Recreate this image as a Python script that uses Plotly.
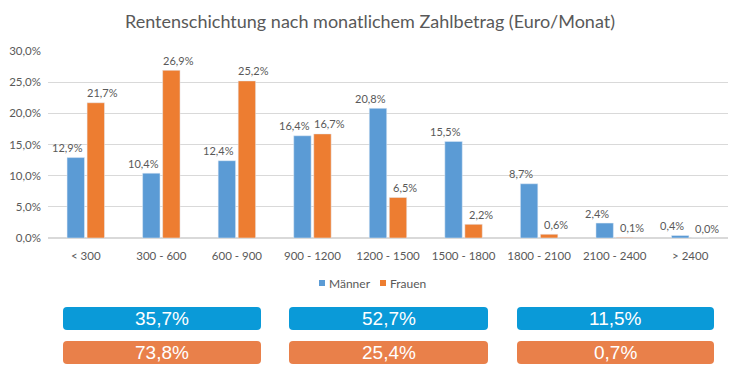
import plotly.graph_objects as go

categories = ["< 300", "300 - 600", "600 - 900", "900 - 1200", "1200 - 1500",
              "1500 - 1800", "1800 - 2100", "2100 - 2400", "> 2400"]
maenner = [12.9, 10.4, 12.4, 16.4, 20.8, 15.5, 8.7, 2.4, 0.4]
frauen = [21.7, 26.9, 25.2, 16.7, 6.5, 2.2, 0.6, 0.1, 0.0]
summen_maenner = ["35,7%", "52,7%", "11,5%"]
summen_frauen = ["73,8%", "25,4%", "0,7%"]

OFF = 8  # page body margin
W, H = 738 - 2 * OFF, 382 - 2 * OFF
L, R, T, B = 48 - OFF, 728 - OFF, 51 - OFF, 238 - OFF

def px(x):
    return (x - OFF - L) / (R - L)

def py(y):
    return (B - (y - OFF)) / (B - T)

grey = "#595959"
blue, orange = "#5B9BD5", "#ED7D31"
fig = go.Figure()
fig.add_trace(go.Bar(x=categories, y=maenner, name="Männer", marker_color=blue,
                     showlegend=False, offsetgroup="m"))
fig.add_trace(go.Bar(x=categories, y=frauen, name="Frauen", marker_color=orange,
                     showlegend=False, offsetgroup="f"))

annotations = []
def fmt(v):
    return f"{v:.1f}".replace(".", ",") + "%"

for cat, v in zip(categories, maenner):
    annotations.append(dict(x=cat, y=v, xref="x", yref="y", text=fmt(v), showarrow=False,
                            xanchor="center", yanchor="middle", xshift=-18, yshift=10,
                            font=dict(size=11, color=grey)))
for cat, v in zip(categories, frauen):
    annotations.append(dict(x=cat, y=v, xref="x", yref="y", text=fmt(v), showarrow=False,
                            xanchor="center", yanchor="middle", xshift=17, yshift=10,
                            font=dict(size=11, color=grey)))

def rounded(x0, y0, x1, y1, r=4):
    X0, X1 = px(x0), px(x1)
    Y0, Y1 = py(y0), py(y1)  # Y0 top
    rx = r / (R - L)
    ry = r / (B - T)
    return (f"M {X0+rx},{Y0} L {X1-rx},{Y0} Q {X1},{Y0} {X1},{Y0-ry} "
            f"L {X1},{Y1+ry} Q {X1},{Y1} {X1-rx},{Y1} L {X0+rx},{Y1} "
            f"Q {X0},{Y1} {X0},{Y1+ry} L {X0},{Y0-ry} Q {X0},{Y0} {X0+rx},{Y0} Z")

boxes_x = [(63, 261), (289, 488), (517, 714)]
rows = [((307, 330), "#0A9AD8", summen_maenner), ((341, 364), "#E9804A", summen_frauen)]
shapes = []
for (ya, yb), col, labels in rows:
    for (xa, xb), lab in zip(boxes_x, labels):
        shapes.append(dict(type="path", xref="paper", yref="paper", path=rounded(xa, ya, xb, yb),
                           fillcolor=col, line_width=0))
        annotations.append(dict(xref="paper", yref="paper", x=px((xa + xb) / 2), y=py((ya + yb) / 2),
                                text=lab, showarrow=False, xanchor="center", yanchor="middle",
                                font=dict(family="Liberation Sans", size=19, color="white")))

# legend (small squares + labels like the original)
for sx, col, name in [(319, blue, "Männer"), (380, orange, "Frauen")]:
    shapes.append(dict(type="rect", xref="paper", yref="paper", x0=px(sx), x1=px(sx + 6),
                       y0=py(286), y1=py(280), fillcolor=col, line_width=0))
    annotations.append(dict(xref="paper", yref="paper", x=px(sx + 8), y=py(283), text=name,
                            showarrow=False, xanchor="left", yanchor="middle",
                            font=dict(size=12, color=grey)))

fig.update_layout(
    width=W, height=H,
    margin=dict(l=L, r=W - R, t=T, b=H - B, pad=0),
    paper_bgcolor="white", plot_bgcolor="white",
    separators=",.",
    barmode="group", bargap=0.47, bargroupgap=0.13,
    font=dict(family="Lato, Liberation Sans", color=grey, size=11),
    title=dict(text="Rentenschichtung nach monatlichem Zahlbetrag (Euro/Monat)",
               x=(370 - OFF) / W, xanchor="center", y=1 - (22 - OFF) / H, yanchor="middle",
               font=dict(size=18, color=grey, family="Lato, Liberation Sans")),
    showlegend=False,
    shapes=shapes, annotations=annotations,
)
fig.update_xaxes(showline=True, linecolor="#D9D9D9", ticks="", tickfont=dict(size=11.5, color=grey),
                 showgrid=False, ticklabelstandoff=7)
fig.update_yaxes(range=[0, 30], dtick=5, tickformat=".1f", ticksuffix="%", showgrid=True,
                 gridcolor="#D9D9D9", zeroline=True, zerolinecolor="#D9D9D9",
                 tickfont=dict(size=11.5, color=grey), ticklabelstandoff=6)
fig.write_html("out.html")
